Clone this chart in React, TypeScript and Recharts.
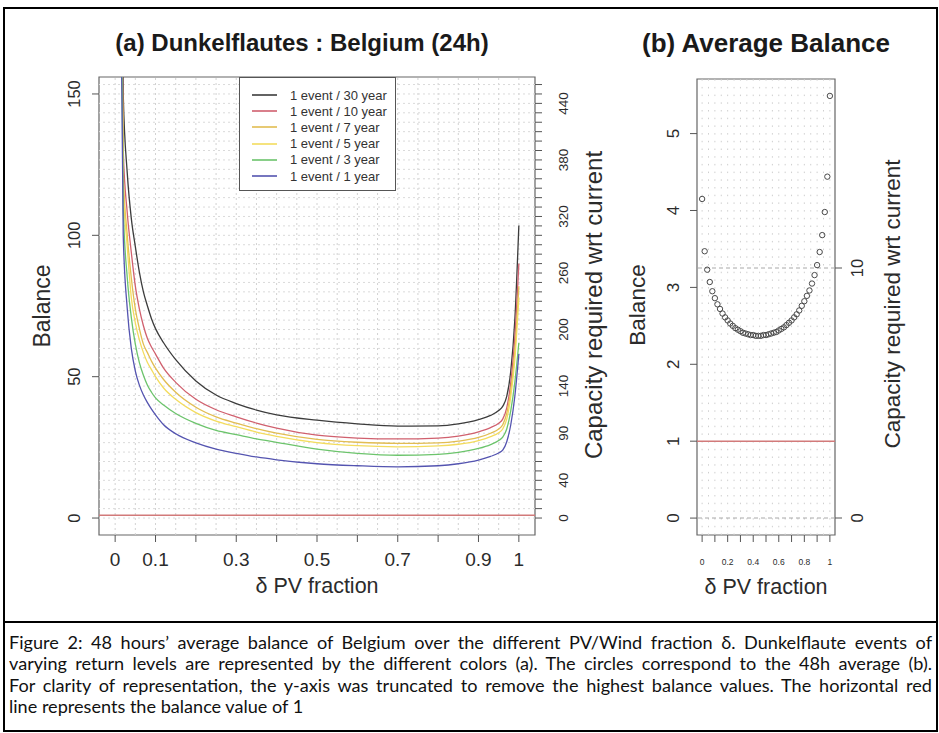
import React from 'react';
import {
  LineChart,
  Line,
  XAxis,
  YAxis,
  ReferenceLine,
  ReferenceArea,
  Legend,
  ScatterChart,
  Scatter,
} from 'recharts';

// ---------------- Panel (a): Dunkelflautes ----------------
const pvFraction = [0.01, 0.02, 0.03, 0.04, 0.05, 0.06, 0.07, 0.08, 0.09, 0.1, 0.12, 0.15, 0.2, 0.25, 0.3, 0.35, 0.4, 0.5, 0.6, 0.7, 0.8, 0.85, 0.9, 0.93, 0.95, 0.96, 0.97, 0.98, 0.99, 1.0];
const event30 = [320, 150, 122, 106, 96, 87, 80, 75, 70.5, 67, 62, 56, 48.5, 43.5, 40.5, 38.2, 36.5, 34.6, 33.3, 32.5, 32.6, 33.3, 34.8, 36.3, 38, 39.5, 43, 52, 70, 103.5];
const event10 = [300, 130, 108, 94, 82, 74, 68, 63.5, 60.5, 58, 53, 48, 42, 38.3, 35.8, 33.6, 31.8, 29.3, 28.3, 28, 28.3, 29, 30.5, 32, 33.5, 35, 39, 48, 64, 90];
const event7 = [290, 122, 100, 85, 74, 67, 61.5, 58.5, 55.5, 53, 49, 44.5, 39.2, 35.8, 33.6, 31.6, 30, 27.8, 26.8, 26.4, 26.6, 27.2, 28.5, 30, 31.5, 33, 37, 45, 59, 82];
const event5 = [280, 118, 96, 78, 69, 63, 58.5, 55, 52.5, 50, 46, 42, 37.3, 34.3, 32.3, 30.4, 28.9, 26.7, 25.6, 25.2, 25.5, 26.1, 27.4, 28.8, 30.2, 31.5, 35, 43, 56, 78];
const event3 = [270, 110, 85, 71, 61.5, 55, 50.5, 47, 44.5, 42.5, 40, 37, 33.5, 31, 29.5, 28, 26.8, 24.4, 22.9, 22.2, 22.5, 23.2, 24.6, 26, 27.4, 28.6, 31.5, 38, 48, 62];
const event1 = [250, 100, 74, 60, 52, 47, 43.5, 40.8, 38.5, 36.5, 33, 29.8, 26.6, 24.4, 22.9, 21.6, 20.6, 19.2, 18.5, 18.1, 18.5, 19.2, 20.5, 21.8, 23, 24, 27, 33, 43, 58];

const seriesKeys = ['e30', 'e10', 'e7', 'e5', 'e3', 'e1'];
const seriesNames = ['1 event / 30 year', '1 event / 10 year', '1 event / 7 year', '1 event / 5 year', '1 event / 3 year', '1 event / 1 year'];
const seriesColors = ['#3c3c3c', '#d0606e', '#e2bd52', '#f3dc5e', '#6cc46c', '#5454b0'];
const seriesValues = [event30, event10, event7, event5, event3, event1];

const aXTicks = [0, 0.1, 0.2, 0.3, 0.4, 0.5, 0.6, 0.7, 0.8, 0.9, 1];
const aXLabels = [0, 0.1, 0.3, 0.5, 0.7, 0.9, 1];
const aYTicks = [0, 50, 100, 150];
const aCapTicks = [0, 10, 20, 30, 40, 50, 60, 70, 80, 90, 100, 110, 120, 130, 140, 150, 160, 170, 180, 190, 200, 210, 220, 230, 240, 250, 260, 270, 280, 290, 300, 310, 320, 330, 340, 350, 360, 370, 380, 390, 400, 410, 420, 430, 440, 450, 460];
const aCapLabels = [0, 40, 90, 140, 200, 260, 320, 380, 440];
const aXGrid = [0, 0.05, 0.1, 0.15, 0.2, 0.25, 0.3, 0.35, 0.4, 0.45, 0.5, 0.55, 0.6, 0.65, 0.7, 0.75, 0.8, 0.85, 0.9, 0.95, 1];

// ---------------- Panel (b): Average balance ----------------
const avgFraction = [0, 0.02, 0.04, 0.06, 0.08, 0.1, 0.12, 0.14, 0.16, 0.18, 0.2, 0.22, 0.24, 0.26, 0.28, 0.3, 0.32, 0.34, 0.36, 0.38, 0.4, 0.42, 0.44, 0.46, 0.48, 0.5, 0.52, 0.54, 0.56, 0.58, 0.6, 0.62, 0.64, 0.66, 0.68, 0.7, 0.72, 0.74, 0.76, 0.78, 0.8, 0.82, 0.84, 0.86, 0.88, 0.9, 0.92, 0.94, 0.96, 0.98, 1];
const avgBalance = [4.15, 3.47, 3.23, 3.07, 2.95, 2.86, 2.78, 2.72, 2.66, 2.61, 2.57, 2.53, 2.5, 2.47, 2.45, 2.43, 2.41, 2.4, 2.39, 2.38, 2.38, 2.37, 2.37, 2.37, 2.38, 2.38, 2.39, 2.4, 2.41, 2.42, 2.44, 2.46, 2.48, 2.51, 2.54, 2.57, 2.61, 2.65, 2.7, 2.76, 2.82, 2.89, 2.96, 3.05, 3.16, 3.29, 3.46, 3.68, 3.98, 4.44, 5.49];

const bXTicks = [0, 0.1, 0.2, 0.3, 0.4, 0.5, 0.6, 0.7, 0.8, 0.9, 1];
const bXLabels = [0, 0.2, 0.4, 0.6, 0.8, 1];
const bYTicks = [0, 1, 2, 3, 4, 5];
const bCapTicks = [0, 10];
const bXGrid = aXGrid;

// domains (R style 4% extension)
const aXDomain = [-0.04, 1.04];
const aYDomain = [-6, 156];
const aCapDomain = [-18, 468];
const bXDomain = [-0.04, 1.04];
const bYDomain = [-0.22, 5.71];
const bCapDomain = [-0.68, 17.56];

const FONT = '"Liberation Sans", Arial, Helvetica, sans-serif';
const TXT = '#2b2b2b';

const tableA = pvFraction.map((x, i) => {
  const row: Record<string, number> = { x };
  seriesKeys.forEach((k, j) => {
    row[k] = seriesValues[j][i];
  });
  return row;
});
const tableB = avgFraction.map((x, i) => ({ x, y: avgBalance[i] }));

const fmt = (v: number) => String(Math.round(v * 100) / 100);
const isIn = (labels: number[] | null, v: number) => !labels || labels.some((l) => Math.abs(l - v) < 1e-9);

const makeRotTick = (dx: number, size: number, labels: number[] | null) => (props: any) => {
  const { x, y, payload } = props;
  const v = payload.value;
  if (!isIn(labels, v)) return <g />;
  const tx = x + dx;
  return (
    <text x={tx} y={y} transform={`rotate(-90 ${tx} ${y})`} textAnchor="middle" fontSize={size} fill={TXT} fontFamily={FONT}>
      {fmt(v)}
    </text>
  );
};

const makeBottomTick = (dy: number, size: number, labels: number[] | null) => (props: any) => {
  const { x, y, payload } = props;
  const v = payload.value;
  if (!isIn(labels, v)) return <g />;
  return (
    <text x={x} y={y + dy} textAnchor="middle" fontSize={size} fill={TXT} fontFamily={FONT}>
      {fmt(v)}
    </text>
  );
};

const renderLegendA = () => (
  <div
    style={{
      width: 157,
      height: 114,
      boxSizing: 'border-box',
      border: '1px solid #555',
      background: '#fff',
      paddingTop: 9,
      fontFamily: FONT,
    }}
  >
    {seriesNames.map((n, i) => (
      <div key={n} style={{ display: 'flex', alignItems: 'center', height: 16.2 }}>
        <svg width={50} height={10} style={{ display: 'block' }}>
          <line x1={12} x2={37} y1={5} y2={5} stroke={seriesColors[i]} strokeWidth={1.6} />
        </svg>
        <span style={{ fontSize: 13, color: '#333', whiteSpace: 'nowrap' }}>{n}</span>
      </div>
    ))}
  </div>
);

const CircleShape = (props: any) => {
  const { cx, cy } = props;
  return <circle cx={cx} cy={cy} r={2.7} fill="none" stroke="#4a4a4a" strokeWidth={1} />;
};

const abs = (s: React.CSSProperties): React.CSSProperties => ({ position: 'absolute', ...s });

const HText = ({ cx, cy, size, bold, children }: any) => (
  <div
    style={abs({
      left: cx,
      top: cy,
      transform: 'translate(-50%, -50%)',
      whiteSpace: 'nowrap',
      fontSize: size,
      fontWeight: bold ? 700 : 400,
      fontFamily: FONT,
      color: bold ? '#1a1a1a' : TXT,
      lineHeight: 1,
    })}
  >
    {children}
  </div>
);

const VText = ({ cx, cy, size, children }: any) => (
  <div
    style={abs({
      left: cx,
      top: cy,
      transform: 'translate(-50%, -50%) rotate(-90deg)',
      whiteSpace: 'nowrap',
      fontSize: size,
      fontFamily: FONT,
      color: TXT,
      lineHeight: 1,
    })}
  >
    {children}
  </div>
);

const captionLines = [
  'Figure 2: 48 hours’ average balance of Belgium over the different PV/Wind fraction δ. Dunkelflaute events of',
  'varying return levels are represented by the different colors (a). The circles correspond to the 48h average (b).',
  'For clarity of representation, the y-axis was truncated to remove the highest balance values. The horizontal red',
  'line represents the balance value of 1',
];

export default function App() {
  return (
    <div style={abs({ left: 0, top: 0, width: 939, height: 733, background: '#fff', overflow: 'hidden' })}>
      {/* frame */}
      <div style={abs({ left: 3, top: 7, width: 935, height: 725, border: '2px solid #000', boxSizing: 'border-box' })} />
      <div style={abs({ left: 3, top: 621, width: 935, height: 2, background: '#000' })} />

      {/* Panel (a) */}
      <div style={abs({ left: 0, top: 0 })}>
        <LineChart width={600} height={620} data={tableA} margin={{ top: 77, right: 0, bottom: 0, left: 0 }}>
          <XAxis
            type="number"
            dataKey="x"
            domain={aXDomain}
            ticks={aXTicks}
            interval={0}
            allowDataOverflow
            axisLine={false}
            tickSize={7}
            tickMargin={0}
            tickLine={{ stroke: '#555' }}
            height={85}
            tick={makeBottomTick(24, 19, aXLabels)}
          />
          <YAxis
            yAxisId="left"
            type="number"
            domain={aYDomain}
            ticks={aYTicks}
            interval={0}
            allowDataOverflow
            axisLine={false}
            tickSize={7}
            tickMargin={0}
            tickLine={{ stroke: '#555' }}
            width={99}
            tick={makeRotTick(-12, 16.5, null)}
          />
          <YAxis
            yAxisId="right"
            orientation="right"
            type="number"
            domain={aCapDomain}
            ticks={aCapTicks}
            interval={0}
            allowDataOverflow
            axisLine={false}
            tickSize={7}
            tickMargin={0}
            tickLine={{ stroke: '#555' }}
            width={65}
            tick={makeRotTick(26, 13.5, aCapLabels)}
          />
          {aXGrid.map((v) => (
            <ReferenceLine key={`vx${v}`} yAxisId="left" x={v} stroke="#d2d2d2" strokeDasharray="2 3" />
          ))}
          {aCapTicks.map((v) => (
            <ReferenceLine key={`hy${v}`} yAxisId="right" y={v} stroke="#dadada" strokeDasharray="2 3" />
          ))}
          <ReferenceArea
            yAxisId="left"
            x1={aXDomain[0]}
            x2={aXDomain[1]}
            y1={aYDomain[0]}
            y2={aYDomain[1]}
            fill="none"
            stroke="#666"
            strokeWidth={1.2}
          />
          <ReferenceLine yAxisId="left" y={1} stroke="#d27a7a" strokeWidth={1.6} />
          {seriesKeys.map((k, i) => (
            <Line
              key={k}
              yAxisId="left"
              type="monotone"
              dataKey={k}
              name={seriesNames[i]}
              stroke={seriesColors[i]}
              strokeWidth={1.3}
              dot={false}
              isAnimationActive={false}
            />
          ))}
          <Legend
            layout="vertical"
            align="center"
            verticalAlign="middle"
            wrapperStyle={{ left: 239, top: 77, width: 157, height: 114 }}
            content={renderLegendA}
          />
        </LineChart>
      </div>

      {/* Panel (b) */}
      <div style={abs({ left: 600, top: 0 })}>
        <ScatterChart width={339} height={620} margin={{ top: 79, right: 0, bottom: 0, left: 0 }}>
          <XAxis
            type="number"
            dataKey="x"
            domain={bXDomain}
            ticks={bXTicks}
            interval={0}
            allowDataOverflow
            axisLine={false}
            tickSize={7}
            tickMargin={0}
            tickLine={{ stroke: '#555' }}
            height={85}
            tick={makeBottomTick(23, 8.5, bXLabels)}
          />
          <YAxis
            yAxisId="left"
            type="number"
            dataKey="y"
            domain={bYDomain}
            ticks={bYTicks}
            interval={0}
            allowDataOverflow
            axisLine={false}
            tickSize={7}
            tickMargin={0}
            tickLine={{ stroke: '#555' }}
            width={97}
            tick={makeRotTick(-11, 17, null)}
          />
          <YAxis
            yAxisId="right"
            orientation="right"
            type="number"
            domain={bCapDomain}
            ticks={bCapTicks}
            interval={0}
            allowDataOverflow
            axisLine={false}
            tickSize={7}
            tickMargin={0}
            tickLine={{ stroke: '#555' }}
            width={104}
            tick={makeRotTick(21, 16.5, null)}
          />
          {bXGrid.map((v) => (
            <ReferenceLine key={`bx${v}`} yAxisId="left" x={v} stroke="#cfcfcf" strokeDasharray="1.5 6.2" />
          ))}
          {bCapTicks.map((v) => (
            <ReferenceLine key={`bc${v}`} yAxisId="right" y={v} stroke="#a8a8a8" strokeDasharray="4 3" />
          ))}
          <ReferenceArea
            yAxisId="left"
            x1={bXDomain[0]}
            x2={bXDomain[1]}
            y1={bYDomain[0]}
            y2={bYDomain[1]}
            fill="none"
            stroke="#666"
            strokeWidth={1.2}
          />
          <ReferenceLine yAxisId="left" y={1} stroke="#d27a7a" strokeWidth={1.6} />
          <Scatter yAxisId="left" data={tableB} dataKey="y" shape={CircleShape} isAnimationActive={false} />
        </ScatterChart>
      </div>

      {/* titles and axis titles */}
      <HText cx={302} cy={43} size={24} bold>
        (a) Dunkelflautes : Belgium (24h)
      </HText>
      <HText cx={766} cy={43} size={26} bold>
        (b) Average Balance
      </HText>
      <VText cx={42} cy={306} size={23}>Balance</VText>
      <VText cx={594} cy={305} size={24}>Capacity required wrt current</VText>
      <HText cx={317} cy={587} size={21.5}>δ PV fraction</HText>
      <VText cx={638} cy={305} size={22.5}>Balance</VText>
      <VText cx={893} cy={304} size={22.5}>Capacity required wrt current</VText>
      <HText cx={766} cy={588} size={21.5}>δ PV fraction</HText>

      {/* caption */}
      <div style={abs({ left: 9, top: 632, width: 923, fontFamily: 'Lato, "Liberation Sans", sans-serif', fontSize: 18.1, color: '#111' })}>
        {captionLines.map((t, i) => (
          <div
            key={i}
            style={{
              height: 21.3,
              lineHeight: '21.3px',
              textAlign: 'justify',
              textAlignLast: i < captionLines.length - 1 ? 'justify' : 'left',
              whiteSpace: 'nowrap',
            }}
          >
            {t}
          </div>
        ))}
      </div>
    </div>
  );
}
